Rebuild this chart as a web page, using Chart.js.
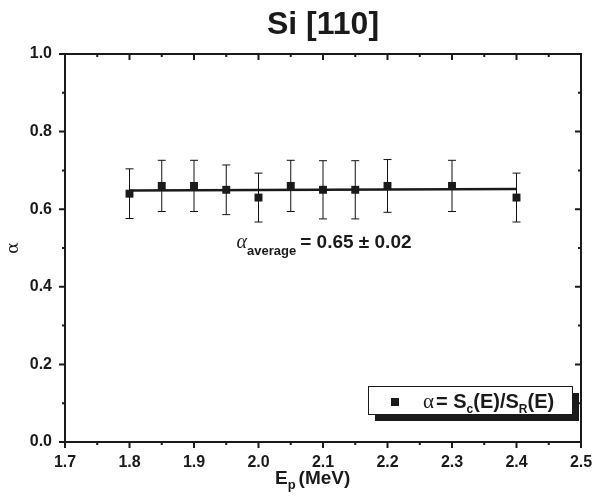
<!DOCTYPE html>
<html>
<head>
<meta charset="utf-8">
<script src="https://cdn.jsdelivr.net/npm/chart.js@4/dist/chart.umd.min.js"></script>
<style>
  html, body { margin: 0; padding: 0; background: #fff; }
  #wrap { width: 592px; height: 499px; }
</style>
</head>
<body>
<div id="wrap"><canvas id="chart" width="592" height="499"></canvas></div>
<script>
const energies = [1.8, 1.85, 1.9, 1.95, 2.0, 2.05, 2.1, 2.15, 2.2, 2.3, 2.4];
const alphaValues = [0.64, 0.66, 0.66, 0.65, 0.63, 0.66, 0.65, 0.65, 0.66, 0.66, 0.63];
const alphaErrors = [0.064, 0.066, 0.066, 0.064, 0.063, 0.066, 0.075, 0.075, 0.068, 0.066, 0.063];
const fitEnergies = [1.8, 2.4];
const fitAlpha = [0.648, 0.652];
const xTicks = [1.7, 1.8, 1.9, 2.0, 2.1, 2.2, 2.3, 2.4, 2.5];
const yTicks = [0.0, 0.2, 0.4, 0.6, 0.8, 1.0];

const narrow = '"Liberation Sans Narrow", "Arial Narrow", "Liberation Sans", Arial, sans-serif';
const bold = (size) => `bold ${size}px ${narrow}`;

// draws a run of text pieces, each with its own font and baseline shift
const drawRun = (ctx, x, y, pieces) => {
  pieces.forEach((p) => {
    ctx.font = p.font;
    ctx.fillText(p.text, x, y + (p.dy || 0));
    x += ctx.measureText(p.text).width + (p.gap || 0);
  });
  return x;
};

const decorations = {
  id: 'decorations',
  beforeDatasetsDraw: (chart) => {
    const { ctx, scales: { x, y } } = chart;
    ctx.save();
    ctx.strokeStyle = '#111';
    ctx.lineWidth = 1;
    energies.forEach((e, i) => {
      const px = x.getPixelForValue(e);
      const top = y.getPixelForValue(alphaValues[i] + alphaErrors[i]);
      const bot = y.getPixelForValue(alphaValues[i] - alphaErrors[i]);
      ctx.beginPath();
      ctx.moveTo(px, top); ctx.lineTo(px, bot);
      ctx.moveTo(px - 4, top); ctx.lineTo(px + 4, top);
      ctx.moveTo(px - 4, bot); ctx.lineTo(px + 4, bot);
      ctx.stroke();
    });
    ctx.restore();
  },
  afterDraw: (chart) => {
    const { ctx, chartArea: a, scales: { x, y } } = chart;
    ctx.save();
    ctx.strokeStyle = '#1a1a1a';
    ctx.fillStyle = '#1a1a1a';

    // frame
    ctx.lineWidth = 2;
    ctx.strokeRect(a.left, a.top, a.right - a.left, a.bottom - a.top);

    // ticks
    ctx.lineWidth = 2;
    ctx.beginPath();
    for (let v = 1.7; v <= 2.5001; v += 0.05) {
      const px = x.getPixelForValue(v);
      const major = Math.abs(v * 10 - Math.round(v * 10)) < 0.01;
      const len = major ? 6 : 3;
      ctx.moveTo(px, a.bottom); ctx.lineTo(px, a.bottom + len);
      ctx.moveTo(px, a.top); ctx.lineTo(px, a.top + len);
    }
    for (let v = 0; v <= 1.0001; v += 0.1) {
      const py = y.getPixelForValue(v);
      const major = Math.round(v * 10) % 2 === 0;
      const len = major ? 6 : 3;
      ctx.moveTo(a.left - len, py); ctx.lineTo(a.left, py);
      ctx.moveTo(a.right - len, py); ctx.lineTo(a.right, py);
    }
    ctx.stroke();

    // title
    ctx.textBaseline = 'alphabetic';
    ctx.textAlign = 'center';
    ctx.font = bold(32);
    ctx.fillText('Si [110]', (a.left + a.right) / 2, 34);

    // axis titles
    ctx.textAlign = 'left';
    const xt = (a.left + a.right) / 2 - 48;
    drawRun(ctx, xt, 484, [
      { text: 'E', font: bold(19) },
      { text: 'p', font: bold(13), dy: 5, gap: 3 },
      { text: '(MeV)', font: bold(19) }
    ]);

    ctx.save();
    ctx.translate(18, (a.top + a.bottom) / 2);
    ctx.rotate(-Math.PI / 2);
    ctx.textAlign = 'center';
    ctx.font = '17px "DejaVu Serif", "Liberation Serif", serif';
    ctx.fillText('\u03b1', 0, 0);
    ctx.restore();

    // average annotation
    ctx.textAlign = 'left';
    const ax = x.getPixelForValue(1.966);
    const ay = y.getPixelForValue(0.5);
    drawRun(ctx, ax, ay, [
      { text: '\u03b1', font: 'italic 20px "Liberation Serif", serif' },
      { text: 'average', font: bold(13), dy: 7, gap: 4 },
      { text: '= 0.65 \u00b1 0.02', font: bold(19) }
    ]);

    // legend box with shadow
    const lx = 368, ly = 386, lw = 204, lh = 28;
    ctx.fillRect(lx + 7, ly + 7, lw, lh);
    ctx.fillStyle = '#fff';
    ctx.fillRect(lx, ly, lw, lh);
    ctx.lineWidth = 1;
    ctx.strokeRect(lx + 0.5, ly + 0.5, lw, lh);
    ctx.fillStyle = '#1a1a1a';
    ctx.fillRect(lx + 23, ly + 12, 8, 8);
    drawRun(ctx, lx + 55, ly + 22, [
      { text: '\u03b1', font: '21px "Liberation Serif", serif', gap: 2 },
      { text: '= S', font: bold(20) },
      { text: 'c', font: bold(12), dy: 5 },
      { text: '(E)/S', font: bold(20) },
      { text: 'R', font: bold(12), dy: 5 },
      { text: '(E)', font: bold(20) }
    ]);
    ctx.restore();
  }
};

new Chart(document.getElementById('chart'), {
  type: 'scatter',
  data: {
    datasets: [
      {
        data: energies.map((e, i) => ({ x: e, y: alphaValues[i] })),
        pointStyle: 'rect',
        pointRadius: 5.6,
        backgroundColor: '#1a1a1a',
        borderColor: '#1a1a1a',
        borderWidth: 0,
        order: 1
      },
      {
        type: 'line',
        data: fitEnergies.map((e, i) => ({ x: e, y: fitAlpha[i] })),
        borderColor: '#1a1a1a',
        borderWidth: 2.5,
        pointRadius: 0,
        order: 2
      }
    ]
  },
  options: {
    responsive: false,
    animation: false,
    layout: { padding: { top: 54, right: 11, left: 0, bottom: 0 } },
    plugins: { legend: { display: false }, tooltip: { enabled: false } },
    scales: {
      x: {
        type: 'linear',
        min: 1.7,
        max: 2.5,
        afterBuildTicks: (s) => { s.ticks = xTicks.map((v) => ({ value: v })); },
        afterFit: (s) => { s.height = 57; s.paddingLeft = 0; s.paddingRight = 0; },
        grid: { display: false, drawTicks: false },
        border: { display: false },
        ticks: {
          padding: 11,
          color: '#1a1a1a',
          font: { family: narrow, size: 16, weight: 'bold' },
          callback: (v) => v.toFixed(1),
          maxRotation: 0
        }
      },
      y: {
        min: 0,
        max: 1,
        afterBuildTicks: (s) => { s.ticks = yTicks.map((v) => ({ value: v })); },
        afterFit: (s) => { s.width = 65; s.paddingTop = 0; s.paddingBottom = 0; },
        grid: { display: false, drawTicks: false },
        border: { display: false },
        ticks: {
          padding: 13,
          color: '#1a1a1a',
          font: { family: narrow, size: 16, weight: 'bold' },
          callback: (v) => v.toFixed(1)
        }
      }
    }
  },
  plugins: [decorations]
});
</script>
</body>
</html>
